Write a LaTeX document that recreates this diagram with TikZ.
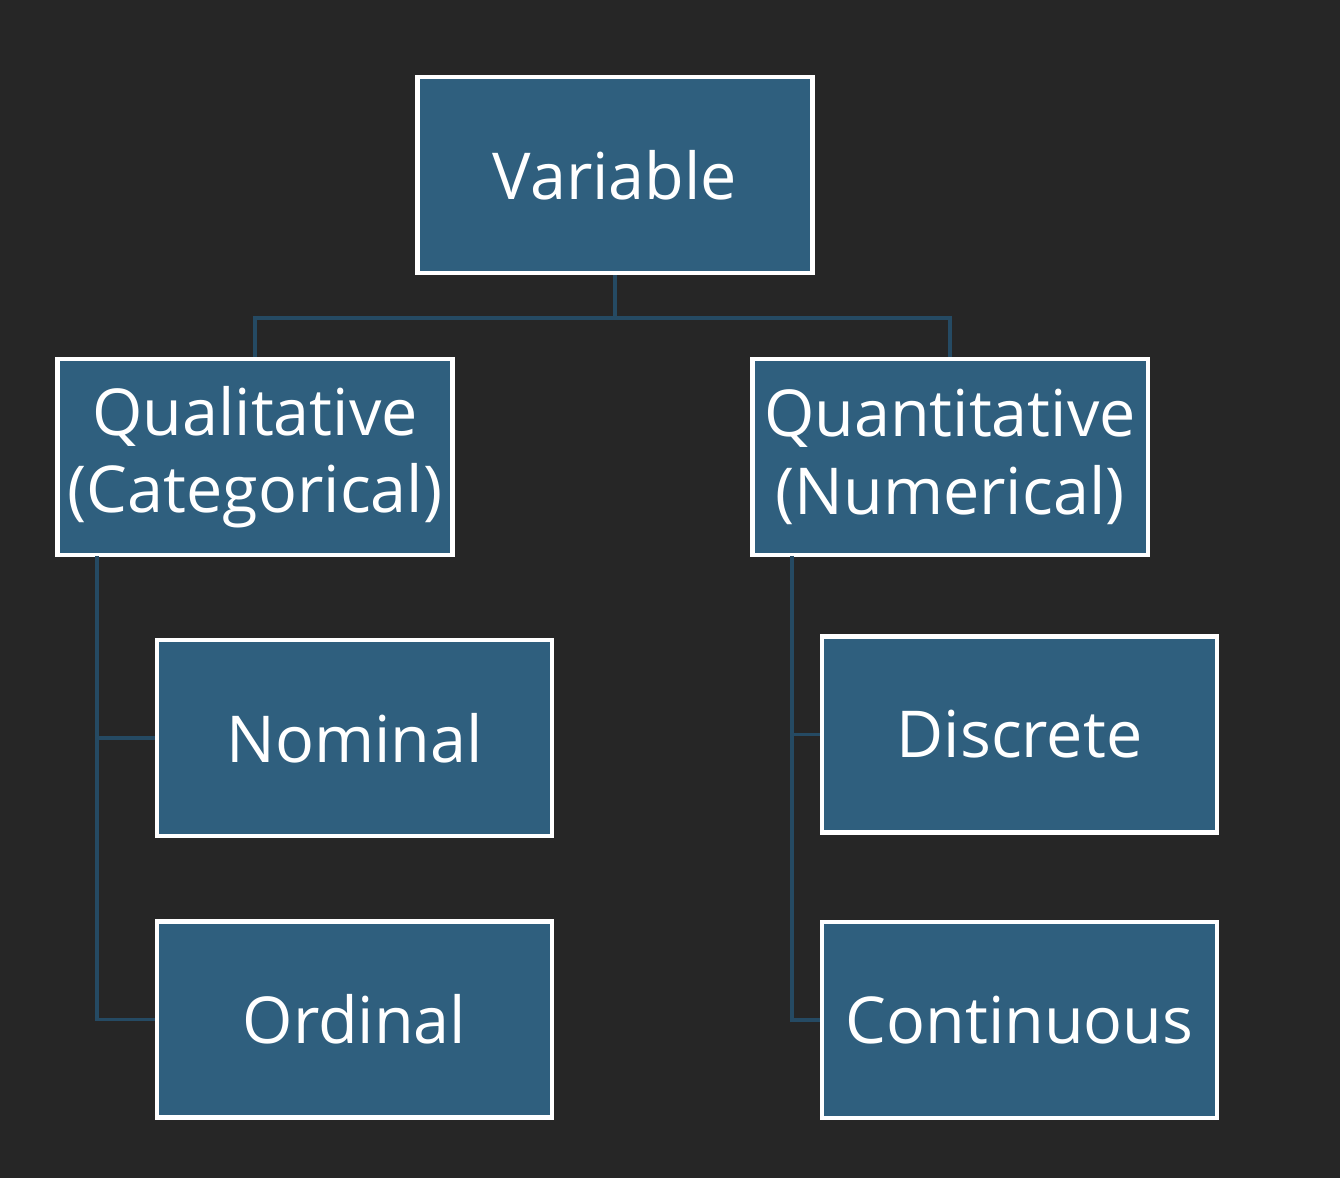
\documentclass[tikz,border=0pt]{standalone}
\usepackage{fontspec}
\setmainfont{Open Sans}
\definecolor{bgdark}{HTML}{262626}
\definecolor{boxblue}{HTML}{2F5F7E}
\definecolor{linkblue}{HTML}{254A63}

\begin{document}
\begin{tikzpicture}[
  every node/.style={rectangle, draw=white, line width=1.15pt, fill=boxblue,
    minimum width=3.95cm, minimum height=1.96cm, inner sep=0pt, text=white,
    align=center, font=\fontsize{18.4}{22}\selectfont},
  link/.style={draw=linkblue, line width=1pt}]
\fill[bgdark] (0,0) rectangle (13.4,-11.78);
\useasboundingbox (0,0) rectangle (13.4,-11.78);
\node (Var) at (6.15,-1.75) {Variable};
\node (Qual) at (2.55,-4.57) {Qualitative\\(Categorical)};
\node (Quan) at (9.50,-4.57) {Quantitative\\(Numerical)};
\node (Nom) at (3.545,-7.38) {Nominal};
\node (Ord) at (3.545,-10.195) {Ordinal};
\node (Dis) at (10.195,-7.345) {Discrete};
\node (Con) at (10.195,-10.20) {Continuous};
\coordinate (QualL) at (0.97,-5.56);
\coordinate (QuanL) at (7.92,-5.56);
% links
\draw[link] (Var.south) -- ++(0,-0.43) -| (Qual.north);
\draw[link] (Var.south) -- ++(0,-0.43) -| (Quan.north);
\draw[link] (QualL) |- (Nom.west);
\draw[link] (QualL) |- (Ord.west);
\draw[link] (QuanL) |- (Dis.west);
\draw[link] (QuanL) |- (Con.west);
\end{tikzpicture}
\end{document}
